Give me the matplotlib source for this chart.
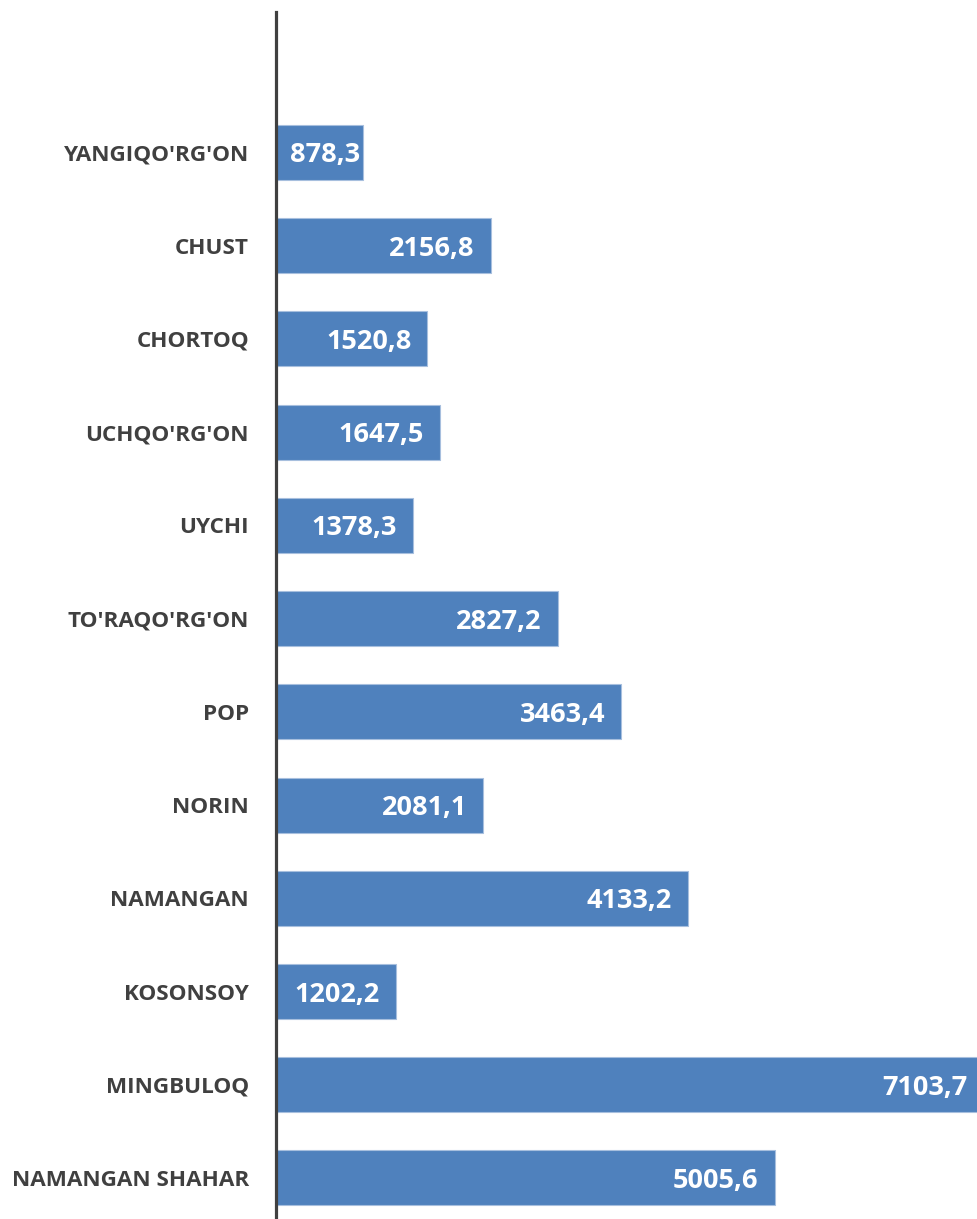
import matplotlib.pyplot as plt

categories = ["NAMANGAN SHAHAR", "MINGBULOQ", "KOSONSOY", "NAMANGAN", "NORIN", "POP",
              "TO'RAQO'RG'ON", "UYCHI", "UCHQO'RG'ON", "CHORTOQ", "CHUST", "YANGIQO'RG'ON"]
values = [5005.6, 7103.7, 1202.2, 4133.2, 2081.1, 3463.4, 2827.2, 1378.3, 1647.5, 1520.8, 2156.8, 878.3]
value_labels = ["5005,6", "7103,7", "1202,2", "4133,2", "2081,1", "3463,4",
                "2827,2", "1378,3", "1647,5", "1520,8", "2156,8", "878,3"]

W, H = 978, 1219
fig = plt.figure(figsize=(W / 100, H / 100), dpi=100)
ax = fig.add_axes([276 / W, 0, 1 - 276 / W, (H - 12) / H])

ypos = list(range(len(categories)))
bars = ax.barh(ypos, values, height=0.59, color="#4F81BD", edgecolor="#A7BFDE", linewidth=0.8)

ax.set_xlim(0, 7048)
ax.set_ylim(-0.44, 12.507)

for s in ["top", "right", "bottom"]:
    ax.spines[s].set_visible(False)
ax.spines["left"].set_color("#404040")
ax.spines["left"].set_linewidth(2.3)
ax.set_xticks([])
ax.set_yticks(ypos)
ax.set_yticklabels(categories, fontfamily="Open Sans", fontweight="bold", fontsize=16.2, color="#404040")
ax.tick_params(axis="y", length=0, pad=19.5)

fig.canvas.draw()
renderer = fig.canvas.get_renderer()
x_axis0 = ax.transData.transform((0, 0))[0]
for b, v, lab in zip(bars, values, value_labels):
    yc = b.get_y() + b.get_height() / 2
    t = ax.annotate(lab, xy=(v, yc), xytext=(-16, 0), annotation_clip=False,
                    textcoords="offset pixels", ha="right", va="center_baseline",
                    color="white", fontfamily="Open Sans", fontweight="bold", fontsize=19.5)
    bb = t.get_window_extent(renderer)
    if bb.x0 < x_axis0 + 14:
        t.remove()
        t = ax.annotate(lab, xy=(0, yc), xytext=(14, 0), annotation_clip=False,
                        textcoords="offset pixels", ha="left", va="center_baseline",
                        color="white", fontfamily="Open Sans", fontweight="bold", fontsize=19.5)
        t.set_clip_path(b)

fig.savefig("out.png", dpi=100)
